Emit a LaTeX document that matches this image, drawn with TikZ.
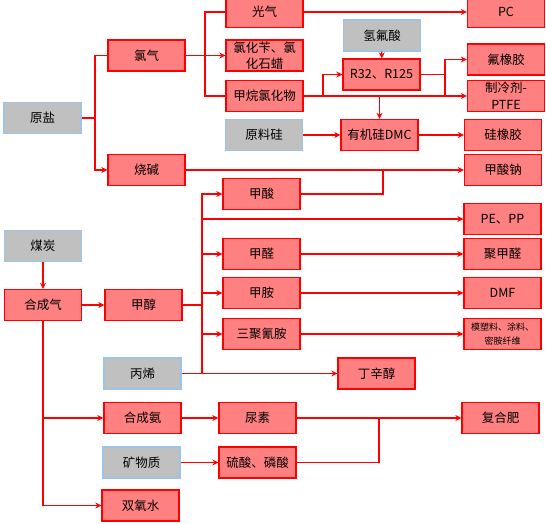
\documentclass[tikz,border=0pt]{standalone}
\usepackage{fontspec}
\setmainfont{Noto Sans CJK SC}
\usetikzlibrary{arrows.meta, positioning, calc}
\definecolor{boxred}{RGB}{255,128,128}
\definecolor{linered}{RGB}{255,0,0}
\definecolor{boxgray}{RGB}{192,192,192}
\definecolor{edgeblue}{RGB}{157,195,230}
\begin{document}
\begin{tikzpicture}[x=1pt, y=-1pt,
  redbox/.style={draw=linered, fill=boxred, line width=1.3pt, minimum width=77pt, minimum height=31pt, inner sep=0pt, align=center, font=\fontsize{12.5}{16}\selectfont},
  graybox/.style={redbox, draw=edgeblue, fill=boxgray},
  link/.style={draw=linered, line width=1.1pt},
  arr/.style={link, -{Stealth[length=6pt, width=6pt]}}]
  \useasboundingbox (0,0) rectangle (546,524);

  % Salt branch
  \node[graybox] (salt) at (42.5,118) {原盐};
  \node[redbox] (chlorine) at (146.5,55.5) {氯气};
  \node[redbox] (caustic) at (146.5,170) {烧碱};
  \node[redbox] (phosgene) at (264.5,12) {光气};
  \node[redbox] (benzyl) at (264.5,55.5) {氯化苄、氯\\化石蜡};
  \node[redbox] (methane) at (264.5,96) {甲烷氯化物};
  \node[graybox] (silicon) at (264,135) {原料硅};
  \node[graybox] (hf) at (382,35.5) {氢氟酸};
  \node[redbox] (rfrig) at (381.5,74.5) {R32、R125};
  \node[redbox] (dmc) at (379.5,135) {有机硅DMC};
  \node[redbox] (pc) at (506,12) {PC};
  \node[redbox] (fkm) at (506,59.5) {氟橡胶};
  \node[redbox, font=\fontsize{12.5}{17}\selectfont] (ptfe) at (506,96) {制冷剂-\\PTFE};
  \node[redbox] (siloxane) at (503,135) {硅橡胶};
  \node[redbox] (sodium) at (503,170) {甲酸钠};

  \coordinate (j1) at (95,118);
  \coordinate (j2) at (205,55.5);
  \coordinate (j3) at (323,96);
  \coordinate (j4) at (445,96);
  \coordinate (j5) at (379.5,96);
  \coordinate (j6) at (383,170);
  \draw[link] (salt) -- (j1) |- (chlorine.west);
  \draw[arr] (j1) |- (caustic.west);
  \draw[arr] (chlorine) -- (benzyl);
  \draw[link] (j2) |- (phosgene.west);
  \draw[link] (j2) |- (methane.west);
  \draw[arr] (phosgene) -- (pc);
  \draw[arr] (methane) -- (ptfe);
  \draw[arr] (j3) |- (rfrig.west);
  \draw[arr] (hf) -- (rfrig);
  \draw[link] (rfrig.east) -- (rfrig.east -| j4);
  \draw[arr] (j4) |- (fkm.west);
  \draw[arr] (j5) -- (dmc.north);
  \draw[arr] (silicon) -- (dmc);
  \draw[arr] (dmc) -- (siloxane);
  \draw[arr] (caustic) -- (sodium);

  % Coal branch
  \node[graybox] (coal) at (43,246) {煤炭};
  \node[redbox] (syngas) at (43,305) {合成气};
  \node[redbox] (methanol) at (143.5,305) {甲醇};
  \node[redbox] (formic) at (261.5,194) {甲酸};
  \node[redbox] (formal) at (261.5,254) {甲醛};
  \node[redbox] (amine) at (261.5,293) {甲胺};
  \node[redbox] (melamine) at (261.5,334) {三聚氰胺};
  \node[redbox] (pepp) at (502.5,219) {PE、PP};
  \node[redbox] (pom) at (502.5,254) {聚甲醛};
  \node[redbox] (dmf) at (502.5,293) {DMF};
  \node[redbox, font=\fontsize{9}{14}\selectfont] (plastics) at (502.5,334) {模塑料、涂料、\\密胺纤维};
  \node[graybox] (propylene) at (142.5,373.5) {丙烯};
  \node[redbox] (butanol) at (376.5,373.5) {丁辛醇};

  \coordinate (bus) at (202,305);
  \draw[link] (formic) -| (j6);
  \draw[arr] (coal) -- (syngas);
  \draw[arr] (syngas) -- (methanol);
  \draw[link] (methanol) -- (bus);
  \draw[arr] (bus) |- (formic.west);
  \draw[arr] (bus) |- (pepp.west);
  \draw[arr] (bus) |- (formal.west);
  \draw[arr] (bus) |- (amine.west);
  \draw[arr] (bus) |- (melamine.west);
  \draw[link] (bus) -- (bus |- propylene);
  \draw[arr] (propylene) -- (butanol);
  \draw[arr] (formal) -- (pom);
  \draw[arr] (amine) -- (dmf);
  \draw[arr] (melamine) -- (plastics);

  % Fertiliser branch
  \node[redbox] (ammonia) at (142.5,418) {合成氨};
  \node[redbox] (urea) at (257.5,418) {尿素};
  \node[graybox] (mineral) at (141.5,462.5) {矿物质};
  \node[redbox] (acid) at (257.5,462.5) {硫酸、磷酸};
  \node[redbox] (fert) at (500.5,418) {复合肥};
  \node[redbox] (peroxide) at (140.5,505.5) {双氧水};

  \coordinate (j7) at (379,418);
  \draw[arr] (syngas.south) |- (ammonia.west);
  \draw[arr] (syngas.south) |- (peroxide.west);
  \draw[arr] (ammonia) -- (urea);
  \draw[arr] (mineral) -- (acid);
  \draw[arr] (urea) -- (fert);
  \draw[link] (acid) -| (j7);
\end{tikzpicture}
\end{document}
